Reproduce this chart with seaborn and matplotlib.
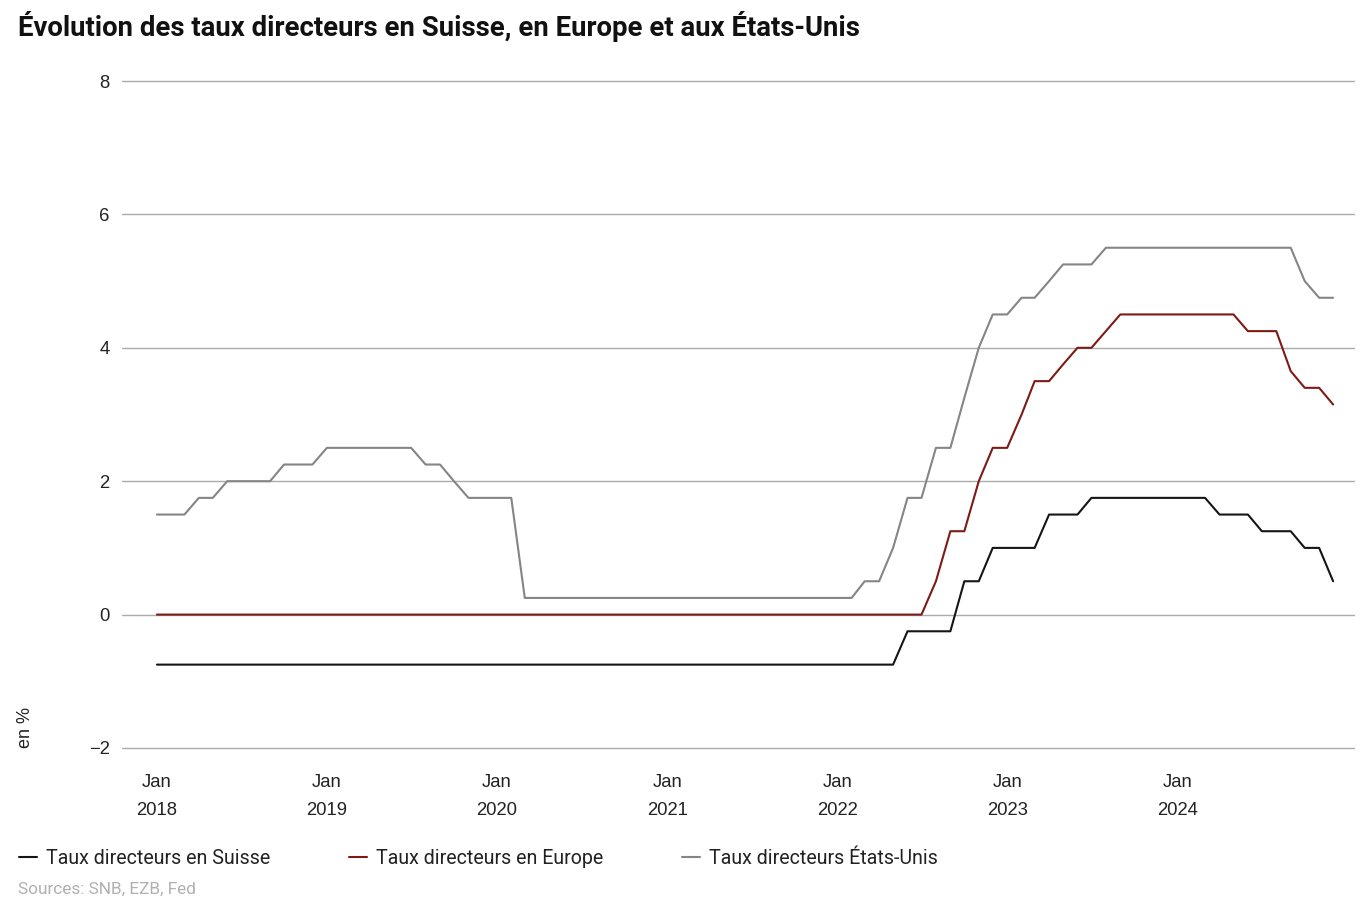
import numpy as np
import pandas as pd
import matplotlib
matplotlib.use("Agg")
import matplotlib.pyplot as plt
import seaborn as sns

# ---- data (monthly, Jan 2018 .. Dec 2024) ----
start_month = "2018-01-01"
n_months = 84

swiss = ([-0.75] * 53 + [-0.25] * 4 + [0.5] * 2 + [1.0] * 4 + [1.5] * 3 +
         [1.75] * 9 + [1.5] * 3 + [1.25] * 3 + [1.0] * 2 + [0.5])
europe = ([0.0] * 55 + [0.5] + [1.25] * 2 + [2.0] + [2.5] * 2 + [3.0] +
          [3.5] * 2 + [3.75] + [4.0] * 2 + [4.25] + [4.5] * 9 + [4.25] * 3 +
          [3.65] + [3.4] * 2 + [3.15])
usa = ([1.5] * 3 + [1.75] * 2 + [2.0] * 4 + [2.25] * 3 + [2.5] * 7 +
       [2.25] * 2 + [2.0] + [1.75] * 4 + [0.25] * 24 + [0.5] * 2 + [1.0] +
       [1.75] * 2 + [2.5] * 2 + [3.25] + [4.0] + [4.5] * 2 + [4.75] * 2 +
       [5.0] + [5.25] * 3 + [5.5] * 14 + [5.0] + [4.75] * 2)

series_names = ["Taux directeurs en Suisse", "Taux directeurs en Europe",
                "Taux directeurs États-Unis"]
series_colors = ["#151515", "#7d1a15", "#858585"]
year_ticks = [2018, 2019, 2020, 2021, 2022, 2023, 2024]
y_ticks = [-2, 0, 2, 4, 6, 8]

title = "Évolution des taux directeurs en Suisse, en Europe et aux États-Unis"
source = "Sources: SNB, EZB, Fed"
y_label = "en %"

dates = pd.date_range(start_month, periods=n_months, freq="MS")
df = pd.concat([
    pd.DataFrame({"date": dates, "taux": vals, "serie": name})
    for vals, name in zip([swiss, europe, usa], series_names)
], ignore_index=True)

# ---- figure ----
sns.set_theme(style="white")
tick_font = ["Liberation Sans", "DejaVu Sans"]
cond_font = ["Roboto", "DejaVu Sans"]

W, H = 1370, 914
fig = plt.figure(figsize=(W / 100, H / 100), dpi=100)
ymin, ymax = -2.1, 8.1
ppu = (748 - 81) / 10.0
ax_top = 81 - (ymax - 8) * ppu
ax_bot = 748 + (-2 - ymin) * ppu
ax = fig.add_axes([122 / W, 1 - ax_bot / H, (1355 - 122) / W, (ax_bot - ax_top) / H])

sns.lineplot(data=df, x="date", y="taux", hue="serie", hue_order=series_names,
             palette=dict(zip(series_names, series_colors)), linewidth=1.5,
             ax=ax, legend=True, zorder=3)

ax.set_ylim(ymin, ymax)
ax.set_xlim(pd.Timestamp(start_month) - pd.Timedelta(days=75),
            dates[-1] + pd.Timedelta(days=47))
ax.set_yticks(y_ticks)
ax.set_yticklabels(["\u2212" + str(abs(v)) if v < 0 else str(v) for v in y_ticks])
xt = [pd.Timestamp(f"{y}-01-01") for y in year_ticks]
ax.set_xticks(xt)
ax.set_xticklabels([f"Jan\n{y}" for y in year_ticks], linespacing=1.8)

ax.grid(axis="y", color="#ababab", linewidth=1.0, zorder=0)
ax.grid(axis="x", visible=False)
for s in ax.spines.values():
    s.set_visible(False)
ax.tick_params(axis="both", length=0, labelsize=13.3, labelcolor="#222222")
ax.tick_params(axis="y", pad=9)
ax.tick_params(axis="x", pad=14)
for lab in ax.get_xticklabels() + ax.get_yticklabels():
    lab.set_family(tick_font)
ax.set_xlabel("")
ax.set_ylabel("")

handles, labels = ax.get_legend_handles_labels()
ax.get_legend().remove()
fig.legend(handles, labels, loc="center left",
           bbox_to_anchor=(19 / W, 1 - 858 / H), ncol=3, frameon=False,
           borderpad=0, borderaxespad=0, handlelength=0.9, handletextpad=0.5,
           columnspacing=4.0, prop={"family": cond_font, "size": 14.1},
           labelcolor="#222222")

fig.text(18 / W, 1 - 26 / H, title, ha="left", va="center",
         fontsize=19.8, fontweight="bold", family=cond_font, color="#111111")
fig.text(18 / W, 1 - 889 / H, source, ha="left", va="center",
         fontsize=12.4, family=cond_font, color="#b0b0b0")
fig.text(26 / W, 1 - 728 / H, y_label, ha="center", va="center", rotation=90,
         fontsize=13, family=tick_font, color="#222222")

fig.savefig("out.png", dpi=100)
